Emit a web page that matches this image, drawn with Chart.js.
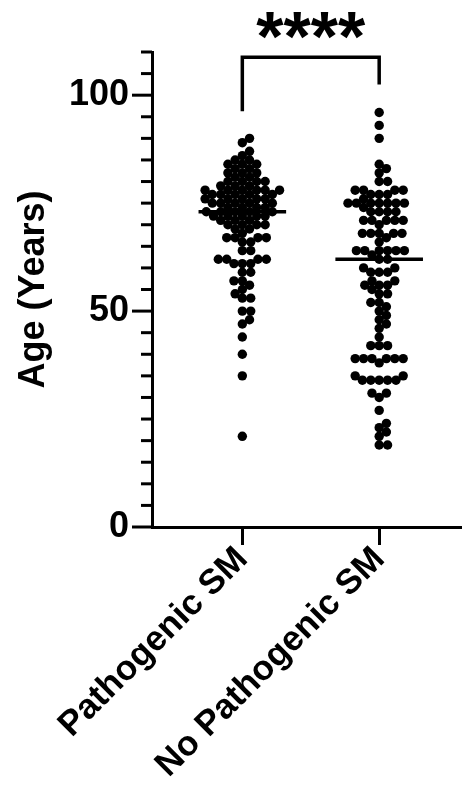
<!DOCTYPE html>
<html>
<head>
<meta charset="utf-8">
<script src="https://cdn.jsdelivr.net/npm/chart.js@4.4.1/dist/chart.umd.min.js"></script>
<style>
  html, body { margin: 0; padding: 0; background: #fff; }
</style>
</head>
<body>
<canvas id="ageChart" width="466" height="811"></canvas>
<script>
// Groups and ages (years) per patient
const groups = ['Pathogenic SM', 'No Pathogenic SM'];
const pathogenicAges = [
  90, 89, 87, 86, 85, 85, 84, 84, 84, 83, 83, 82, 82, 82, 81, 81, 80, 80, 80, 80,
  79, 79, 79, 78, 78, 78, 78, 78, 78, 77, 77, 77, 77, 77, 76, 76, 76, 76, 76, 75,
  75, 75, 75, 75, 74, 74, 74, 74, 73, 73, 73, 73, 73, 72, 72, 72, 72, 72, 71, 71,
  71, 70, 70, 70, 70, 69, 69, 68, 67, 67, 67, 67, 66, 66, 64, 64, 62, 62, 62, 62,
  61, 61, 61, 59, 59, 57, 57, 56, 55, 54, 53, 53, 50, 50, 48, 47, 44, 40, 35, 21
];
const noPathogenicAges = [
  96, 93, 90, 84, 83, 82, 80, 80, 78, 78, 78, 78, 77, 77, 77, 76, 75, 75, 75, 75,
  75, 75, 75, 74, 73, 73, 73, 73, 71, 71, 71, 71, 71, 70, 68, 68, 68, 68, 68, 67,
  66, 64, 64, 64, 64, 64, 64, 63, 62, 62, 60, 60, 59, 59, 59, 57, 57, 56, 56, 56,
  55, 54, 54, 52, 52, 51, 50, 49, 48, 47, 46, 44, 42, 42, 42, 39, 39, 39, 39, 39,
  39, 38, 35, 35, 34, 34, 34, 34, 34, 31, 31, 30, 27, 24, 23, 22, 21, 19, 19
];
const yTickLabels = [0, 50, 100];
const significance = '****';

const FONT = "'Liberation Sans', Arial, sans-serif";
const DOT_R = 4.7;
const DOT_GAP = 8.4; // centre spacing in the swarm

function median(arr) {
  const s = [...arr].sort((a, b) => a - b);
  const m = Math.floor(s.length / 2);
  return s.length % 2 ? s[m] : (s[m - 1] + s[m]) / 2;
}

// Beeswarm: place each dot as close to the group centre as possible without overlap
function swarmOffsets(values, yScale, d) {
  const order = values.map((v, i) => i).sort((a, b) => values[a] - values[b]);
  const placed = [];
  const out = new Array(values.length).fill(0);
  for (const i of order) {
    const y = yScale.getPixelForValue(values[i]);
    const near = placed.filter(p => Math.abs(p.y - y) < d);
    const cands = [0];
    near.forEach(p => {
      const dx = Math.sqrt(d * d - (p.y - y) ** 2);
      cands.push(p.x + dx, p.x - dx);
    });
    cands.sort((a, b) => Math.abs(a) - Math.abs(b));
    const x = cands.find(c => near.every(p => (p.x - c) ** 2 + (p.y - y) ** 2 >= d * d - 0.01));
    placed.push({ x, y });
    out[i] = x;
  }
  return out;
}

const series = [pathogenicAges, noPathogenicAges];

// medians, y-axis tick marks, significance bracket
const extras = {
  id: 'extras',
  afterDraw(chart) {
    const ctx = chart.ctx;
    const xs = chart.scales.x, ys = chart.scales.y;
    const unit = xs.getPixelForValue(1) - xs.getPixelForValue(0);
    ctx.save();
    ctx.strokeStyle = '#000';
    ctx.lineCap = 'butt';

    // y ticks: long at labelled values, short elsewhere
    ctx.lineWidth = 3;
    ys.ticks.forEach(t => {
      const y = ys.getPixelForValue(t.value);
      const len = yTickLabels.includes(t.value) ? 20 : 11;
      ctx.beginPath();
      ctx.moveTo(chart.chartArea.left - len, y);
      ctx.lineTo(chart.chartArea.left, y);
      ctx.stroke();
    });

    // median lines
    ctx.lineWidth = 3.5;
    series.forEach((vals, gi) => {
      const y = ys.getPixelForValue(median(vals));
      const cx = xs.getPixelForValue(gi);
      ctx.beginPath();
      ctx.moveTo(cx - 0.32 * unit, y);
      ctx.lineTo(cx + 0.32 * unit, y);
      ctx.stroke();
    });

    // bracket between the two groups
    const x0 = xs.getPixelForValue(0), x1 = xs.getPixelForValue(1);
    const top = ys.getPixelForValue(108.8);
    ctx.lineWidth = 3.5;
    ctx.beginPath();
    ctx.moveTo(x0, ys.getPixelForValue(96.3));
    ctx.lineTo(x0, top);
    ctx.lineTo(x1, top);
    ctx.lineTo(x1, ys.getPixelForValue(102.5));
    ctx.stroke();

    ctx.fillStyle = '#000';
    ctx.font = `bold 70px ${FONT}`;
    ctx.textAlign = 'center';
    ctx.textBaseline = 'alphabetic';
    ctx.fillText(significance, (x0 + x1) / 2, top + 4);
    ctx.restore();
  }
};

const ctx = document.getElementById('ageChart');
const ageChart = new Chart(ctx, {
  type: 'scatter',
  data: {
    datasets: series.map((vals, gi) => ({
      label: groups[gi],
      data: vals.map(v => ({ x: gi, y: v })),
      pointRadius: DOT_R,
      pointHoverRadius: DOT_R,
      pointBackgroundColor: '#000',
      pointBorderWidth: 0
    }))
  },
  options: {
    responsive: false,
    animation: false,
    devicePixelRatio: 1,
    layout: { padding: { top: 52, right: 1, left: 0, bottom: 0 } },
    plugins: { legend: { display: false }, tooltip: { enabled: false } },
    scales: {
      x: {
        type: 'linear',
        min: -0.66,
        max: 1.60,
        afterBuildTicks: s => { s.ticks = [{ value: 0 }, { value: 1 }]; },
        afterFit: s => { s.height = 284; },
        ticks: {
          callback: v => groups[v],
          minRotation: 45,
          maxRotation: 45,
          color: '#000',
          padding: -6,
          font: { family: FONT, size: 35, weight: 'bold' }
        },
        grid: { drawOnChartArea: false, tickLength: 18, tickWidth: 3, tickColor: '#000' },
        border: { width: 3, color: '#000' }
      },
      y: {
        min: 0,
        max: 110,
        afterFit: s => { s.width = 152; },
        ticks: {
          stepSize: 5,
          autoSkip: false,
          callback: v => (yTickLabels.includes(v) ? v : ''),
          color: '#000',
          padding: 3,
          font: { family: FONT, size: 36, weight: 'bold' }
        },
        grid: { drawOnChartArea: false, tickLength: 20, tickColor: 'rgba(0,0,0,0)' },
        border: { width: 3, color: '#000' },
        title: {
          display: true,
          text: 'Age (Years)',
          color: '#000',
          padding: { top: 12, bottom: 0 },
          font: { family: FONT, size: 36, weight: 'bold' }
        }
      }
    }
  },
  plugins: [extras]
});

// spread the dots once the scales know their pixel sizes
const xs = ageChart.scales.x, ys = ageChart.scales.y;
const unit = xs.getPixelForValue(1) - xs.getPixelForValue(0);
series.forEach((vals, gi) => {
  const offs = swarmOffsets(vals, ys, DOT_GAP);
  ageChart.data.datasets[gi].data = vals.map((v, i) => ({ x: gi + offs[i] / unit, y: v }));
});
ageChart.update('none');
</script>
</body>
</html>
